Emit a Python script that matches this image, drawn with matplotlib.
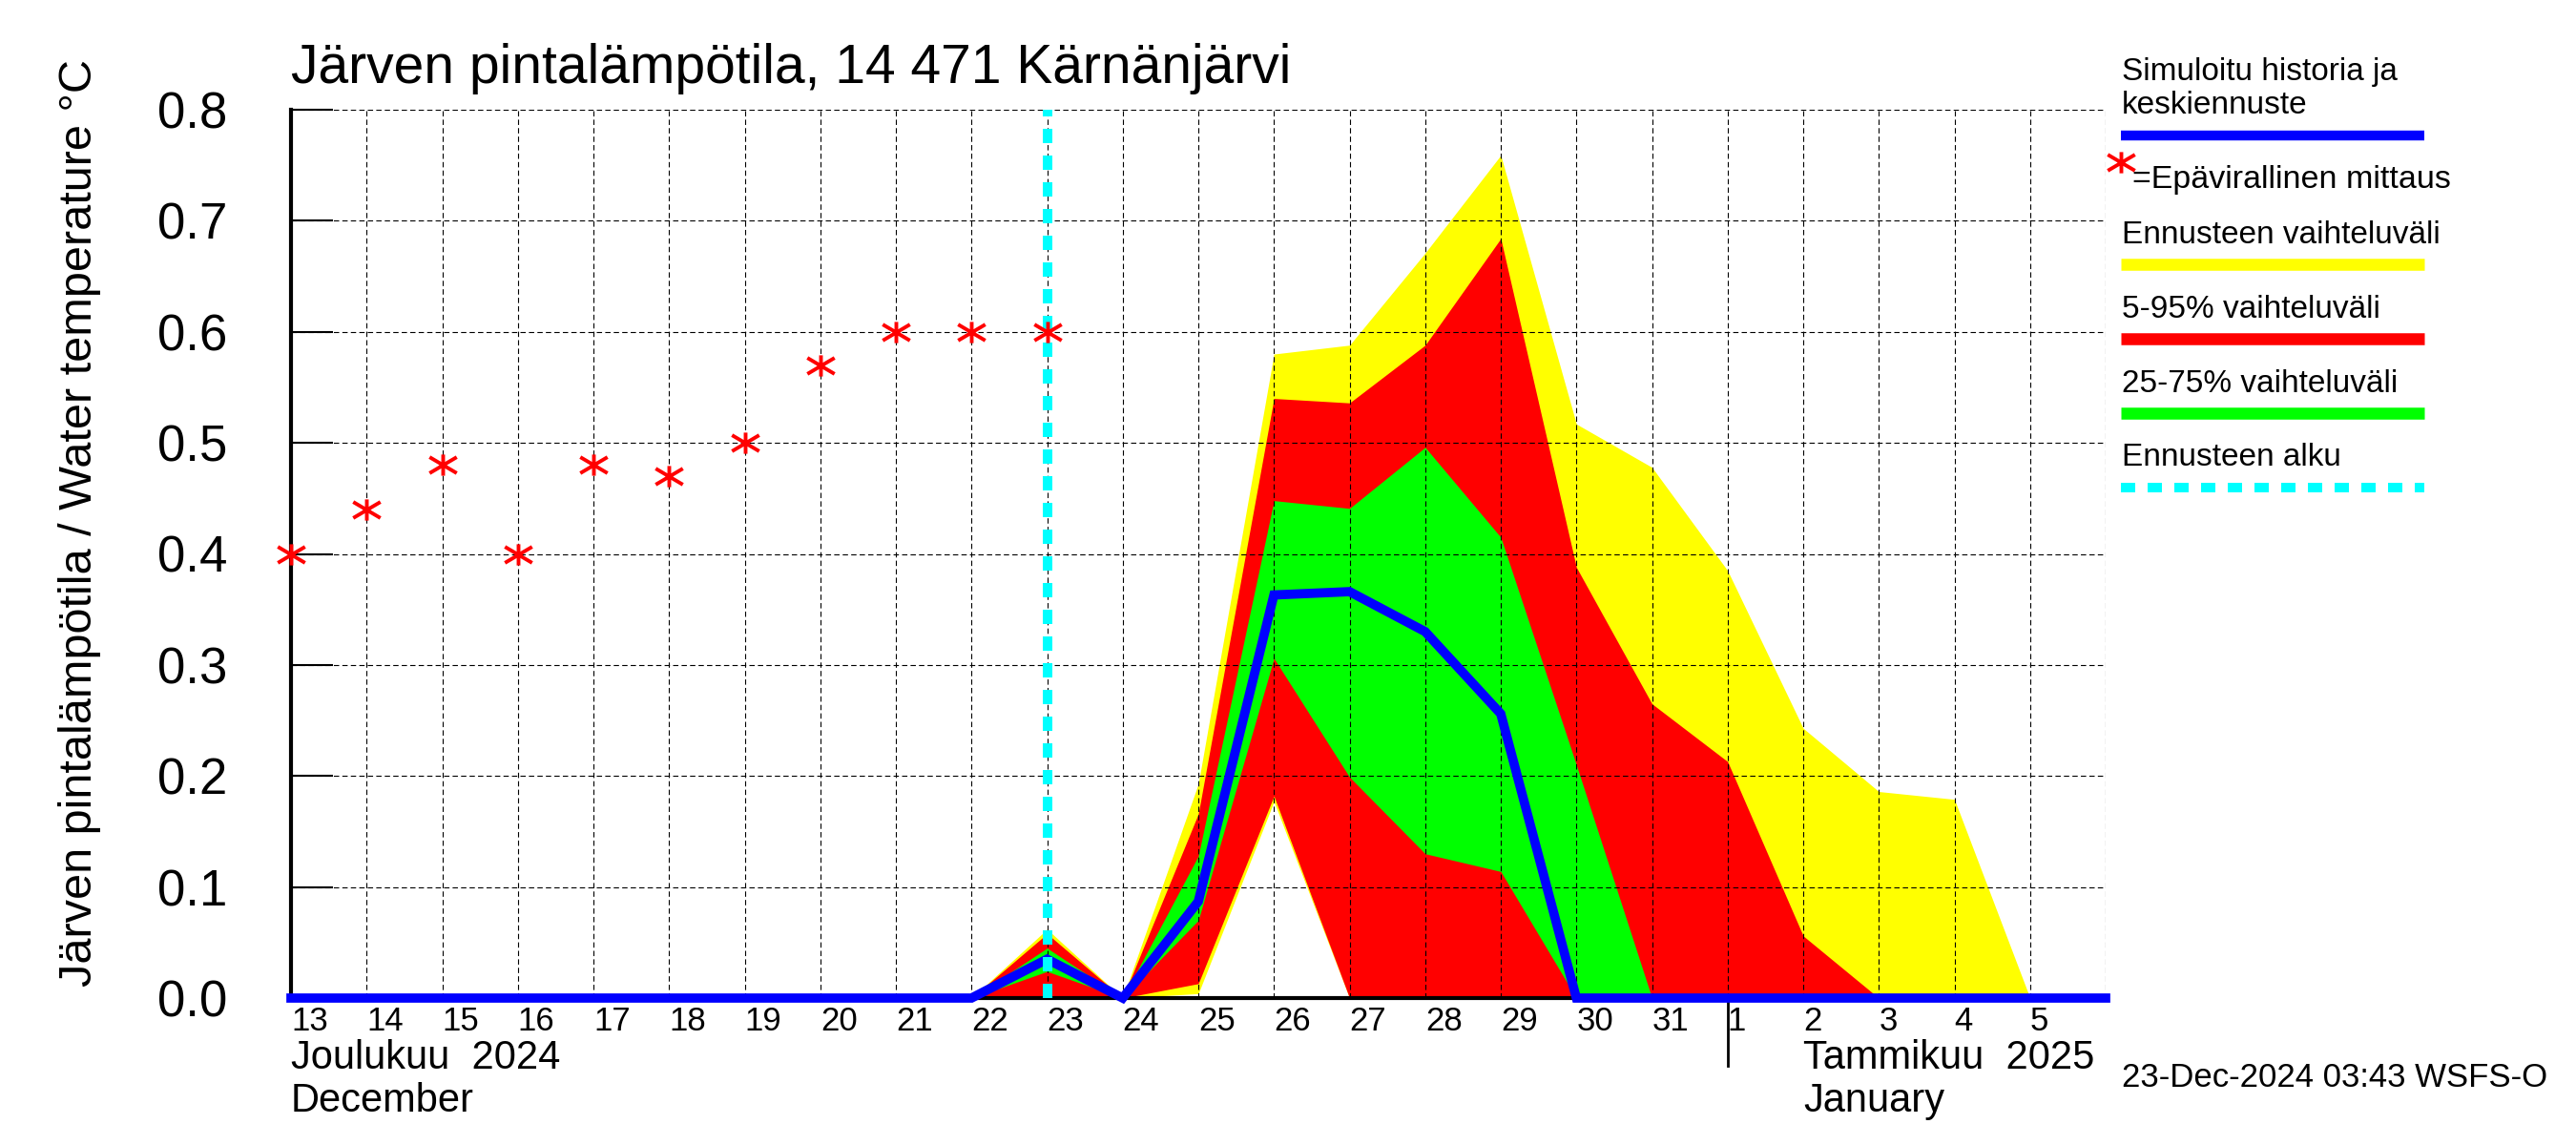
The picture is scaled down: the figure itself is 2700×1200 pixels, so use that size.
import matplotlib
matplotlib.use('Agg')
import matplotlib.pyplot as plt
import matplotlib.dates as mdates
import matplotlib.transforms as mtransforms
from matplotlib.lines import Line2D
from matplotlib.path import Path
import pandas as pd

plt.rcParams['font.family'] = ['Liberation Sans', 'DejaVu Sans']

# havainnot (epävirallinen mittaus)
obs_dates = pd.date_range('2024-12-13', '2024-12-23')
obs_values = [0.40, 0.44, 0.48, 0.40, 0.48, 0.47, 0.50, 0.57, 0.60, 0.60, 0.60]

# simuloitu historia ja keskiennuste
sim_dates = pd.date_range('2024-12-13', '2025-01-06')
sim_median = [0, 0, 0, 0, 0, 0, 0, 0, 0, 0,
              0.035, 0, 0.087, 0.363, 0.366, 0.330, 0.256, 0, 0,
              0, 0, 0, 0, 0, 0]

# ennusteen vaihteluvälit
fc_dates = pd.date_range('2024-12-22', '2025-01-05')
yellow_hi = [0, 0.062, 0, 0.193, 0.580, 0.588, 0.671, 0.759, 0.517, 0.478, 0.385, 0.243, 0.186, 0.179, 0]
yellow_lo = [0, 0, 0, 0.004, 0.177, 0, 0, 0, 0, 0, 0, 0, 0, 0, 0]
red_hi = [0, 0.058, 0, 0.166, 0.540, 0.536, 0.588, 0.684, 0.388, 0.265, 0.213, 0.056, 0, 0, 0]
red_lo = [0, 0, 0, 0.013, 0.182, 0, 0, 0, 0, 0, 0, 0, 0, 0, 0]
green_hi = [0, 0.045, 0, 0.128, 0.448, 0.441, 0.496, 0.415, 0.210, 0, 0, 0, 0, 0, 0]
green_lo = [0, 0.024, 0, 0.070, 0.306, 0.199, 0.130, 0.114, 0, 0, 0, 0, 0, 0, 0]

forecast_start = pd.Timestamp('2024-12-23')
y_ticks = [0.0, 0.1, 0.2, 0.3, 0.4, 0.5, 0.6, 0.7, 0.8]

W, H = 2700, 1200
fig = plt.figure(figsize=(27, 12), dpi=100)
ax = fig.add_axes([305 / W, 1 - 1046 / H, (2207 - 305) / W, (1046 - 115) / H])

# asteriski kuten alkuperäisessä
star = Path([(-1, -0.59), (1, 0.59), (-1, 0.59), (1, -0.59), (0, -0.78), (0, 0.78)],
            [Path.MOVETO, Path.LINETO, Path.MOVETO, Path.LINETO, Path.MOVETO, Path.LINETO])

ax.fill_between(fc_dates, yellow_lo, yellow_hi, color='#ffff00', lw=0, zorder=1)
ax.fill_between(fc_dates, red_lo, red_hi, color='#ff0000', lw=0, zorder=1.1)
ax.fill_between(fc_dates, green_lo, green_hi, color='#00ff00', lw=0, zorder=1.2)
ax.plot(sim_dates, sim_median, color='#0000ff', lw=7, zorder=3, clip_on=False,
        solid_joinstyle='miter')
ax.axvline(forecast_start, color='#00ffff', lw=7.2, linestyle=(0, (1.5, 1.3)), zorder=5)
ax.plot(obs_dates, obs_values, linestyle='none', marker=star, markersize=20.5,
        markeredgewidth=2.8, color='#ff0000', zorder=6, clip_on=False)

ax.set_xlim(pd.Timestamp('2024-12-13'), pd.Timestamp('2025-01-06'))
ax.set_ylim(0, 0.8)
ax.set_yticks(y_ticks)
ax.set_yticklabels([f'{v:.1f}' for v in y_ticks])

day_ticks = pd.date_range('2024-12-13', '2025-01-06')
ax.set_xticks(day_ticks)
ax.set_xticklabels([str(d.day) for d in day_ticks[:-1]] + [''])
for lab in ax.get_xticklabels():
    lab.set_horizontalalignment('left')
long_ticks = [d for d in day_ticks if d.day % 5 == 0 or d == day_ticks[0]]
ax.set_xticks(long_ticks, minor=True)

ax.tick_params(axis='y', direction='in', length=32, width=1.5, pad=48, labelsize=38)
ax.tick_params(axis='x', which='major', length=0, pad=6, labelsize=25)
ax.tick_params(axis='x', which='minor', direction='out', length=25, width=1)

ax.grid(True, which='major', color='black', linestyle=(0, (5, 3)), linewidth=0.8)
ax.set_axisbelow(False)
for s in ['top', 'right']:
    ax.spines[s].set_visible(False)
ax.spines['left'].set_linewidth(3)
ax.spines['bottom'].set_linewidth(3)

# kuukausien erotin ja nimet
ax.axvline(pd.Timestamp('2025-01-01'), ymin=-71 / 931, ymax=0, color='black', lw=2, clip_on=False)
tr = mtransforms.blended_transform_factory(ax.transData, fig.transFigure)
ax.text(pd.Timestamp('2024-12-13'), 1 - 1120 / H, 'Joulukuu  2024', transform=tr,
        fontsize=30, va='baseline', ha='left')
ax.text(pd.Timestamp('2024-12-13'), 1 - 1165 / H, 'December', transform=tr,
        fontsize=30, va='baseline', ha='left')
ax.text(pd.Timestamp('2025-01-02'), 1 - 1120 / H, 'Tammikuu  2025', transform=tr,
        fontsize=30, va='baseline', ha='left')
ax.text(pd.Timestamp('2025-01-02'), 1 - 1165 / H, 'January', transform=tr,
        fontsize=30, va='baseline', ha='left')

fig.text(305 / W, 1 - 87 / H, 'Järven pintalämpötila, 14 471 Kärnänjärvi',
         fontsize=41, va='baseline', ha='left')
fig.text(84 / W, 1 - 548 / H, 'Järven pintalämpötila / Water temperature °C',
         fontsize=35, rotation=90, va='center', ha='center')
fig.text(2224 / W, 1 - 1139 / H, '23-Dec-2024 03:43 WSFS-O',
         fontsize=25, va='baseline', ha='left')

# selite
lx0, lx1 = 2223 / W, 2541 / W
fig.text(2224 / W, 1 - 84 / H, 'Simuloitu historia ja', fontsize=24, va='baseline')
fig.text(2224 / W, 1 - 119 / H, 'keskiennuste', fontsize=24, va='baseline')
fig.add_artist(Line2D([lx0, lx1], [1 - 142 / H] * 2, color='#0000ff', lw=7.5,
                      solid_capstyle='butt', transform=fig.transFigure))
fig.add_artist(Line2D([2223 / W], [1 - 170 / H], marker=star, markersize=20.5,
                      markeredgewidth=2.8, color='#ff0000', linestyle='none',
                      transform=fig.transFigure))
fig.text(2235 / W, 1 - 197 / H, '=Epävirallinen mittaus', fontsize=24.5, va='baseline')
fig.text(2224 / W, 1 - 255 / H, 'Ennusteen vaihteluväli', fontsize=24, va='baseline')
fig.add_artist(Line2D([lx0, lx1], [1 - 277 / H] * 2, color='#ffff00', lw=9,
                      solid_capstyle='butt', transform=fig.transFigure))
fig.text(2224 / W, 1 - 333 / H, '5-95% vaihteluväli', fontsize=24, va='baseline')
fig.add_artist(Line2D([lx0, lx1], [1 - 355 / H] * 2, color='#ff0000', lw=9,
                      solid_capstyle='butt', transform=fig.transFigure))
fig.text(2224 / W, 1 - 411 / H, '25-75% vaihteluväli', fontsize=24, va='baseline')
fig.add_artist(Line2D([lx0, lx1], [1 - 433 / H] * 2, color='#00ff00', lw=9,
                      solid_capstyle='butt', transform=fig.transFigure))
fig.text(2224 / W, 1 - 488 / H, 'Ennusteen alku', fontsize=24, va='baseline')
fig.add_artist(Line2D([lx0, lx1], [1 - 511 / H] * 2, color='#00ffff', lw=7.2,
                      linestyle=(0, (1.5, 1.3)), solid_capstyle='butt',
                      transform=fig.transFigure))

fig.savefig('out.png', dpi=100)
